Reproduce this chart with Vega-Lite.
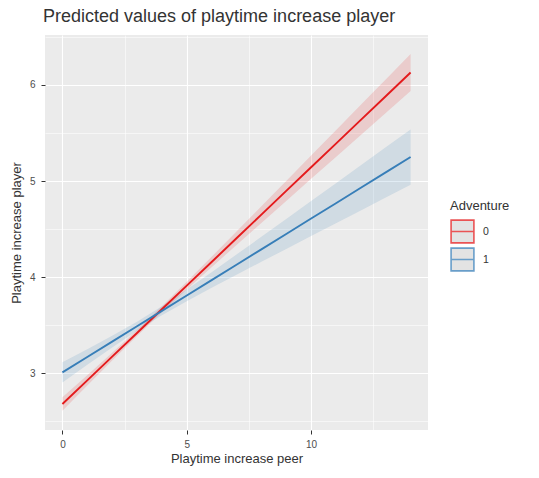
{
  "$schema": "https://vega.github.io/schema/vega-lite/v6.json",
  "autosize": {"type": "none"},
  "padding": {"left": 45, "top": 35, "right": 111, "bottom": 48},
  "width": 383,
  "height": 395,
  "background": "white",
  "title": {
    "text": "Predicted values of playtime increase player",
    "anchor": "start",
    "frame": "group",
    "font": "Liberation Sans",
    "fontSize": 18,
    "fontWeight": "normal",
    "color": "#333333",
    "offset": 9,
    "dx": -2
  },
  "data": {
    "values": [
      {"x": 0, "Adventure": "0", "pred": 2.680, "lower": 2.610, "upper": 2.750},
      {"x": 1, "Adventure": "0", "pred": 2.926, "lower": 2.872, "upper": 2.980},
      {"x": 2, "Adventure": "0", "pred": 3.173, "lower": 3.133, "upper": 3.213},
      {"x": 3, "Adventure": "0", "pred": 3.419, "lower": 3.388, "upper": 3.450},
      {"x": 4, "Adventure": "0", "pred": 3.666, "lower": 3.635, "upper": 3.697},
      {"x": 5, "Adventure": "0", "pred": 3.912, "lower": 3.872, "upper": 3.952},
      {"x": 6, "Adventure": "0", "pred": 4.158, "lower": 4.104, "upper": 4.212},
      {"x": 7, "Adventure": "0", "pred": 4.405, "lower": 4.335, "upper": 4.475},
      {"x": 8, "Adventure": "0", "pred": 4.651, "lower": 4.564, "upper": 4.738},
      {"x": 9, "Adventure": "0", "pred": 4.898, "lower": 4.794, "upper": 5.002},
      {"x": 10, "Adventure": "0", "pred": 5.144, "lower": 5.023, "upper": 5.265},
      {"x": 11, "Adventure": "0", "pred": 5.390, "lower": 5.251, "upper": 5.529},
      {"x": 12, "Adventure": "0", "pred": 5.637, "lower": 5.480, "upper": 5.794},
      {"x": 13, "Adventure": "0", "pred": 5.883, "lower": 5.709, "upper": 6.057},
      {"x": 14, "Adventure": "0", "pred": 6.130, "lower": 5.938, "upper": 6.322},
      {"x": 0, "Adventure": "1", "pred": 3.010, "lower": 2.905, "upper": 3.115},
      {"x": 1, "Adventure": "1", "pred": 3.170, "lower": 3.089, "upper": 3.251},
      {"x": 2, "Adventure": "1", "pred": 3.330, "lower": 3.269, "upper": 3.391},
      {"x": 3, "Adventure": "1", "pred": 3.490, "lower": 3.443, "upper": 3.537},
      {"x": 4, "Adventure": "1", "pred": 3.650, "lower": 3.603, "upper": 3.697},
      {"x": 5, "Adventure": "1", "pred": 3.810, "lower": 3.749, "upper": 3.871},
      {"x": 6, "Adventure": "1", "pred": 3.970, "lower": 3.889, "upper": 4.051},
      {"x": 7, "Adventure": "1", "pred": 4.130, "lower": 4.025, "upper": 4.235},
      {"x": 8, "Adventure": "1", "pred": 4.290, "lower": 4.160, "upper": 4.420},
      {"x": 9, "Adventure": "1", "pred": 4.450, "lower": 4.294, "upper": 4.606},
      {"x": 10, "Adventure": "1", "pred": 4.610, "lower": 4.428, "upper": 4.792},
      {"x": 11, "Adventure": "1", "pred": 4.770, "lower": 4.562, "upper": 4.978},
      {"x": 12, "Adventure": "1", "pred": 4.930, "lower": 4.695, "upper": 5.165},
      {"x": 13, "Adventure": "1", "pred": 5.090, "lower": 4.829, "upper": 5.351},
      {"x": 14, "Adventure": "1", "pred": 5.250, "lower": 4.962, "upper": 5.538}
    ]
  },
  "encoding": {
    "x": {
      "field": "x",
      "type": "quantitative",
      "scale": {"domain": [-0.7, 14.7], "nice": false, "zero": false},
      "axis": {
        "title": "Playtime increase peer",
        "values": [0, 2.5, 5, 7.5, 10, 12.5],
        "format": ".0f",
        "labelExpr": "datum.value % 5 === 0 ? datum.label : ''",
        "gridWidth": {"condition": {"test": "datum.value % 5 === 0", "value": 1.1}, "value": 0.55},
        "tickOpacity": {"condition": {"test": "datum.value % 5 === 0", "value": 1}, "value": 0}
      }
    },
    "y": {
      "field": "lower",
      "type": "quantitative",
      "scale": {"domain": [2.41, 6.52], "nice": false, "zero": false},
      "axis": {
        "title": "Playtime increase player",
        "values": [2.5, 3, 3.5, 4, 4.5, 5, 5.5, 6, 6.5],
        "format": ".0f",
        "labelPadding": 6,
        "titlePadding": 6,
        "labelExpr": "datum.value % 1 === 0 ? datum.label : ''",
        "gridWidth": {"condition": {"test": "datum.value % 1 === 0", "value": 1.1}, "value": 0.55},
        "tickOpacity": {"condition": {"test": "datum.value % 1 === 0", "value": 1}, "value": 0}
      }
    }
  },
  "layer": [
    {
      "mark": {"type": "area", "fillOpacity": 0.15, "interpolate": "linear"},
      "encoding": {
        "y2": {"field": "upper"},
        "fill": {
          "field": "Adventure",
          "type": "nominal",
          "scale": {"domain": ["1", "0"], "range": ["#377EB8", "#E41A1C"]},
          "legend": null
        },
        "detail": {"field": "Adventure"}
      }
    },
    {
      "mark": {"type": "line", "strokeWidth": 1.9},
      "encoding": {
        "y": {"field": "pred", "type": "quantitative"},
        "stroke": {
          "field": "Adventure",
          "type": "nominal",
          "scale": {"domain": ["0", "1"], "range": ["#E41A1C", "#377EB8"]},
          "legend": {
            "title": "Adventure",
            "orient": "none",
            "legendX": 405,
            "legendY": 165,
            "symbolType": "M-1,-1H1V1H-1ZM-1,0H1",
            "symbolSize": 520,
            "symbolFillColor": "#dadada",
            "symbolStrokeWidth": 1.6,
            "symbolOpacity": 0.75,
            "rowPadding": -6,
            "labelOffset": 8,
            "titlePadding": 6
          }
        }
      }
    }
  ],
  "config": {
    "font": "Liberation Sans",
    "view": {"fill": "#EBEBEB", "stroke": null},
    "axis": {
      "domain": false,
      "gridColor": "#FFFFFF",
      "gridOpacity": 1,
      "tickColor": "#333333",
      "tickSize": 4,
      "tickWidth": 1,
      "labelColor": "#4D4D4D",
      "labelFont": "Liberation Sans",
      "labelFontSize": 10,
      "labelPadding": 5,
      "titleColor": "#333333",
      "titleFont": "Liberation Sans",
      "titleFontSize": 13,
      "titleFontWeight": "normal"
    },
    "axisX": {"titlePadding": 3},
    "legend": {
      "titleFont": "Liberation Sans",
      "titleFontSize": 13,
      "titleFontWeight": "normal",
      "titleColor": "#333333",
      "labelFont": "Liberation Sans",
      "labelFontSize": 10.5,
      "labelColor": "#333333"
    }
  }
}
